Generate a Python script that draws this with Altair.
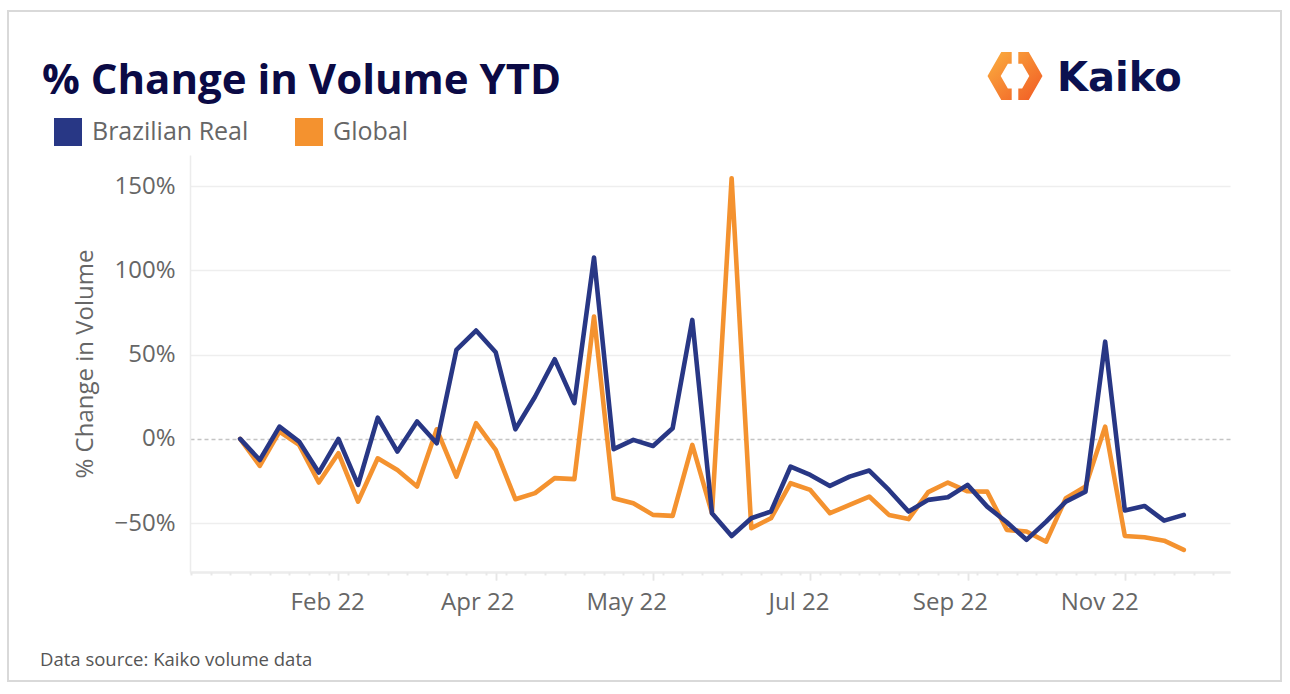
import altair as alt
import pandas as pd

# ---------------- data ----------------
series_names = ["Brazilian Real", "Global"]
brazilian_real = [0, -12.5, 7.3, -1.6, -20, 0, -27.3, 12.6, -7.5, 10.3, -2.6, 52.8, 64.3,
                  51.4, 5.7, 25, 47.3, 21.2, 107.6, -6.1, -0.6, -4.2, 6.3, 70.6, -44.1,
                  -57.6, -47.1, -43.1, -16.4, -21.4, -27.9, -22.4, -18.8, -30.3, -43.1,
                  -36.2, -34.6, -27.3, -40.2, -49.5, -59.9, -49.1, -37.2, -31.3, 57.7,
                  -42.5, -39.8, -48.5, -45.1]
global_vol = [0, -16, 4.4, -3.6, -25.9, -8.5, -37.2, -11.5, -18.4, -28.3, 5.7, -22.4, 9.3,
              -6.5, -35.8, -32.2, -23.3, -23.9, 72.6, -35.2, -38.2, -45.1, -45.7, -3.6,
              -44.1, 154.7, -53, -47.1, -26.3, -30.3, -44.1, -39.2, -34.2, -45.1, -47.6,
              -31.6, -25.9, -31.1, -31.3, -54, -55, -61, -35.2, -28.3, 7.3, -57.6, -58.4,
              -60.4, -65.9]
x_tick_weeks = [5, 13, 21, 29, 37, 45]
x_label_weeks = [4.43, 12.06, 19.64, 28.4, 36.1, 43.7]
x_labels = ["Feb 22", "Apr 22", "May 22", "Jul 22", "Sep 22", "Nov 22"]
x_minor_weeks = [k + 0.5 for k in range(-3, 50)]
y_ticks = [-50, 0, 50, 100, 150]

title_text = "% Change in Volume YTD"
y_title = "% Change in Volume"
source_text = "Data source: Kaiko volume data"
brand_text = "Kaiko"

n = len(brazilian_real)
df = pd.DataFrame({
    "week": list(range(n)) * 2,
    "series": [series_names[0]] * n + [series_names[1]] * n,
    "value": brazilian_real + global_vol,
})

# ---------------- layout ----------------
PL, PT = 190, 155
W, H = 1040, 417
FONT = "Open Sans"
GRAY = "#666666"
BLUE = "#283785"
ORANGE = "#f4922f"

xscale = alt.Scale(domain=[-2.55, 50.35], nice=False, zero=False)
yscale = alt.Scale(domain=[-79, 168.5], nice=False, zero=False)
cscale = alt.Scale(domain=series_names, range=[BLUE, ORANGE])

x_main = alt.X("week:Q", scale=xscale, title=None,
               axis=alt.Axis(values=x_tick_weeks, labels=False, ticks=True, tickSize=8,
                             tickColor="#e6e6e6", tickWidth=1.5, domain=True,
                             domainColor="#ececec", domainWidth=2, grid=False,
                             orient="bottom", title=None))
y_main = alt.Y("value:Q", scale=yscale,
               axis=alt.Axis(values=y_ticks, labelExpr="datum.label + '%'",
                             title=y_title, titleFont=FONT, titleFontSize=24,
                             titleFontWeight="normal", titleColor=GRAY, titlePadding=16,
                             labelFont=FONT, labelFontSize=24, labelColor=GRAY,
                             labelPadding=15, ticks=False, domain=True,
                             domainColor="#ececec", domainWidth=1.5, grid=True,
                             gridColor={"condition": {"test": "datum.value === 0", "value": "#c4c4c4"},
                                        "value": "#eeeeee"},
                             gridDash={"condition": {"test": "datum.value === 0", "value": [4, 3]},
                                       "value": []},
                             gridWidth=1.5))

def line_layer(name):
    return (alt.Chart(df)
            .transform_filter(alt.datum.series == name)
            .mark_line(strokeWidth=4.6, strokeJoin="round", strokeCap="round")
            .encode(x=x_main, y=y_main,
                    color=alt.Color("series:N", scale=cscale, legend=None)))

legend_layer = (alt.Chart(df).transform_filter("false")
                .mark_square(size=784, opacity=1)
                .encode(color=alt.Color("series:N", scale=cscale,
                                        legend=alt.Legend(orient="none", legendX=54 - PL,
                                                          legendY=118 - PT, direction="horizontal",
                                                          title=None, symbolType="square",
                                                          symbolSize=784, symbolStrokeWidth=0,
                                                          labelFont=FONT, labelFontSize=25,
                                                          labelColor=GRAY, labelOffset=10,
                                                          columnPadding=46, padding=0))))

label_expr = ("[" + ",".join(f"'{l}'" for l in x_labels) + "][indexof(["
              + ",".join(str(p) for p in x_label_weeks) + "], datum.value)]")
lab_layer = (alt.Chart(pd.DataFrame({"pos": x_label_weeks}))
             .mark_point(opacity=0)
             .encode(x=alt.X("pos:Q", scale=xscale, title=None,
                             axis=alt.Axis(values=x_label_weeks, labelExpr=label_expr,
                                           ticks=False, tickSize=0, domain=False, grid=False,
                                           labelPadding=18, labelFont=FONT, labelFontSize=24,
                                           labelColor=GRAY, orient="bottom", title=None,
                                           labelFlush=False, labelOverlap=False)),
                     y=alt.value(0)))

minor_layer = (alt.Chart(pd.DataFrame({"m": x_minor_weeks}))
               .mark_point(opacity=0)
               .encode(x=alt.X("m:Q", scale=xscale, title=None,
                               axis=alt.Axis(values=x_minor_weeks, labels=False, ticks=True,
                                             tickSize=3, tickWidth=2, tickColor="#e8e8e8",
                                             domain=False, grid=False, orient="bottom",
                                             title=None)),
                       y=alt.value(0)))

one = pd.DataFrame({"t": [0]})

border = alt.Chart(one).mark_rect(fillOpacity=0, stroke="#d9d9d9", strokeWidth=2).encode(
    x=alt.value(8 - PL), x2=alt.value(1281 - PL), y=alt.value(11 - PT), y2=alt.value(681 - PT))

title = alt.Chart(pd.DataFrame({"t": [title_text]})).mark_text(
    font=FONT, fontSize=42, fontWeight="bold", color="#0b0a45", align="left",
    baseline="alphabetic").encode(text="t:N", x=alt.value(42 - PL), y=alt.value(94 - PT))

source = alt.Chart(pd.DataFrame({"t": [source_text]})).mark_text(
    font=FONT, fontSize=18.5, color="#555555", align="left",
    baseline="alphabetic").encode(text="t:N", x=alt.value(40 - PL), y=alt.value(666 - PT))

brand = alt.Chart(pd.DataFrame({"t": [brand_text]})).mark_text(
    font="DejaVu Sans", fontSize=40, fontWeight="bold", color="#0b1150", align="left",
    baseline="alphabetic").encode(text="t:N", x=alt.value(1057 - PL), y=alt.value(91 - PT))

logo_path = ("M -0.12 -0.87 L -0.5 -0.87 L -1 0 L -0.5 0.87 L -0.12 0.87 L -0.12 0.45 "
             "L -0.26 0.45 L -0.52 0 L -0.26 -0.45 L -0.12 -0.45 Z "
             "M 0.12 -0.87 L 0.5 -0.87 L 1 0 L 0.5 0.87 L 0.12 0.87 L 0.12 0.45 "
             "L 0.26 0.45 L 0.52 0 L 0.26 -0.45 L 0.12 -0.45 Z")
logo = alt.Chart(one).mark_point(
    shape=logo_path, filled=True, size=3025, opacity=1, strokeWidth=0,
    fill=alt.LinearGradient(gradient="linear", x1=0, y1=0, x2=1, y2=1,
                            stops=[alt.GradientStop(color="#fbb040", offset=0),
                                   alt.GradientStop(color="#f15a24", offset=1)])
).encode(x=alt.value(1015 - PL), y=alt.value(76 - PT))

chart = (alt.layer(border, legend_layer, line_layer("Global"), line_layer("Brazilian Real"),
                   lab_layer, minor_layer, title, source, brand, logo)
         .resolve_axis(x="independent")
         .properties(width=W, height=H, padding={"left": PL, "top": PT, "right": 1290 - PL - W,
                                                 "bottom": 694 - PT - H},
                     autosize=alt.AutoSizeParams(type="none"), background="white")
         .configure_view(strokeWidth=0))

chart.save("out.html", embed_options={"renderer": "svg", "actions": False})
